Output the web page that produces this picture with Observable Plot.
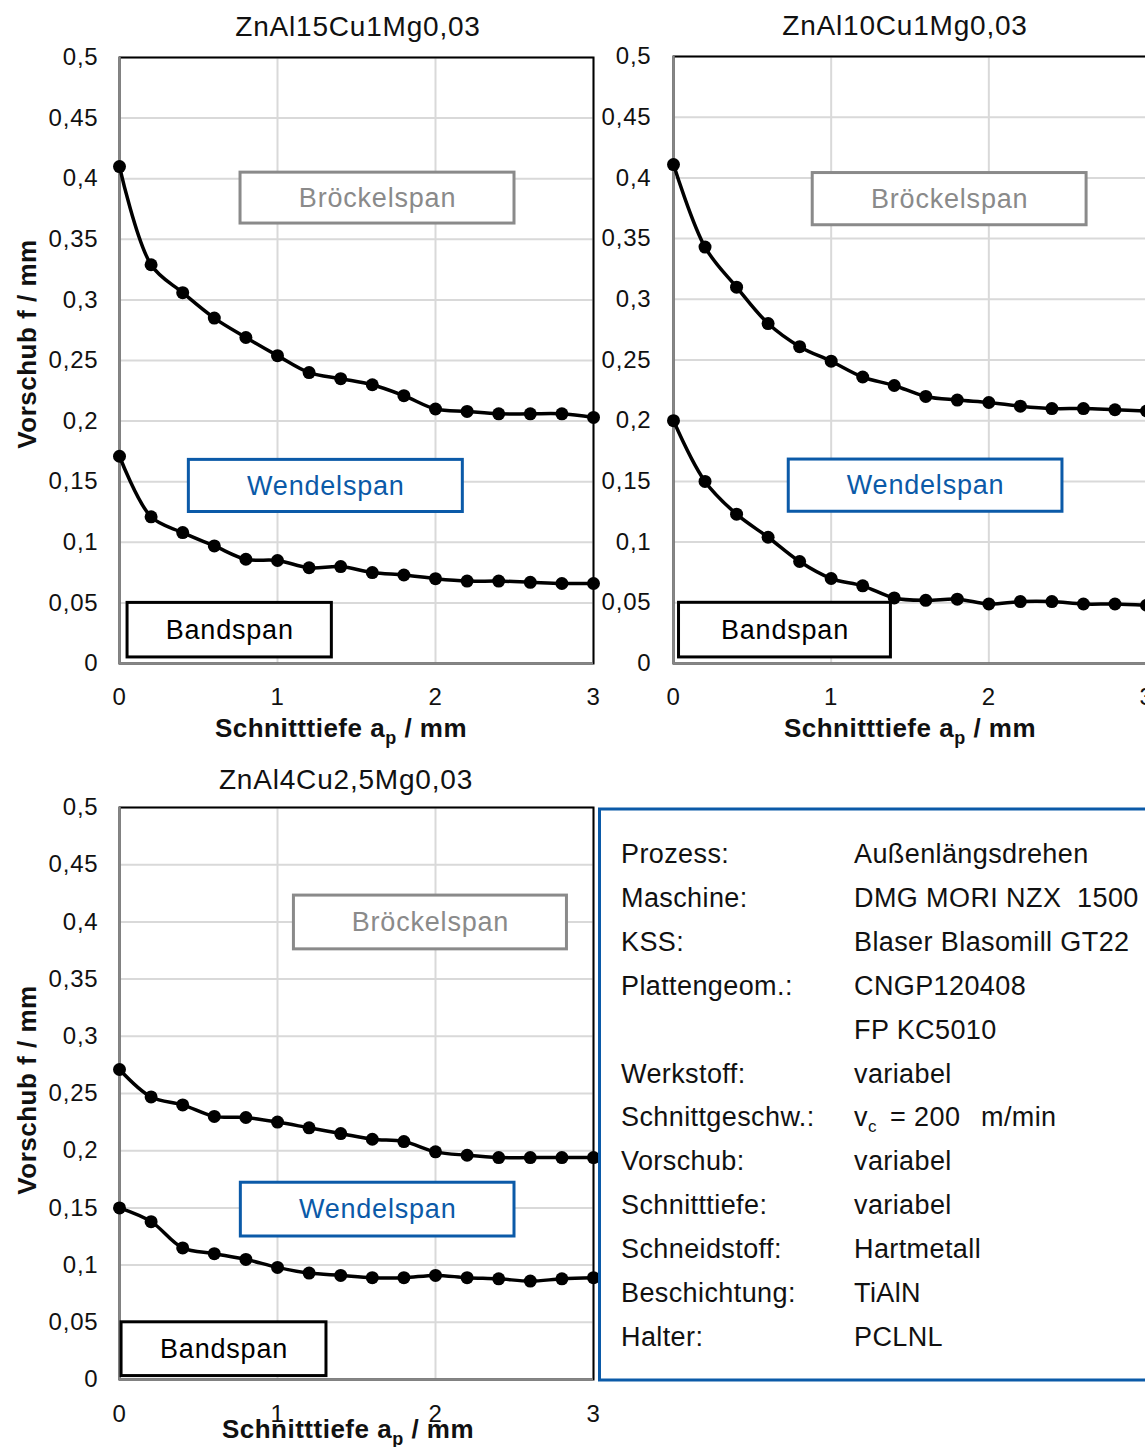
<!DOCTYPE html>
<html><head><meta charset="utf-8">
<script src="https://cdn.jsdelivr.net/npm/d3@7"></script>
<script src="https://cdn.jsdelivr.net/npm/@observablehq/plot@0.6"></script>
<style>
html,body{margin:0;padding:0;overflow:hidden;background:#fff;}
#page{position:relative;width:1145px;height:1447px;overflow:hidden;font-family:"Liberation Sans",Arial,sans-serif;}
.panel{position:absolute;}
.panel svg{background:transparent !important;overflow:visible;max-width:none !important;font-family:"Liberation Sans",Arial,sans-serif;}
.panel svg text{letter-spacing:0.8px;}
.overlay{position:absolute;left:0;top:0;pointer-events:none;font-family:"Liberation Sans",Arial,sans-serif;}
</style></head><body><div id="page"></div>
<script>
// ---- data ----
const depth = [0, 0.2, 0.4, 0.6, 0.8, 1.0, 1.2, 1.4, 1.6, 1.8, 2.0, 2.2, 2.4, 2.6, 2.8, 3.0];
const alloys = ["ZnAl15Cu1Mg0,03", "ZnAl10Cu1Mg0,03", "ZnAl4Cu2,5Mg0,03"];
// boundary Bröckelspan / Wendelspan
const upper15 = [0.410, 0.329, 0.306, 0.285, 0.269, 0.254, 0.240, 0.235, 0.230, 0.221, 0.210, 0.208, 0.206, 0.206, 0.206, 0.203];
const upper10 = [0.411, 0.343, 0.310, 0.280, 0.261, 0.249, 0.236, 0.229, 0.220, 0.217, 0.215, 0.212, 0.210, 0.210, 0.209, 0.208];
const upper4  = [0.271, 0.247, 0.240, 0.230, 0.229, 0.225, 0.220, 0.215, 0.210, 0.208, 0.199, 0.196, 0.194, 0.194, 0.194, 0.194];
// boundary Wendelspan / Bandspan
const lower15 = [0.171, 0.121, 0.108, 0.097, 0.086, 0.085, 0.079, 0.080, 0.075, 0.073, 0.070, 0.068, 0.068, 0.067, 0.066, 0.066];
const lower10 = [0.200, 0.150, 0.123, 0.104, 0.084, 0.070, 0.064, 0.054, 0.052, 0.053, 0.049, 0.051, 0.051, 0.049, 0.049, 0.048];
const lower4  = [0.150, 0.138, 0.115, 0.110, 0.105, 0.098, 0.093, 0.091, 0.089, 0.089, 0.091, 0.089, 0.088, 0.086, 0.088, 0.089];
const xTicks = [0, 1, 2, 3];
const yTicks = [0, 0.05, 0.1, 0.15, 0.2, 0.25, 0.3, 0.35, 0.4, 0.45, 0.5];
const zoneLabels = ["Bröckelspan", "Wendelspan", "Bandspan"];
const xTitle = ["Schnitttiefe a", "p", " / mm"];
const yTitle = "Vorschub f / mm";
const paramLabels = ["Prozess:", "Maschine:", "KSS:", "Plattengeom.:", "", "Werkstoff:", "Schnittgeschw.:", "Vorschub:", "Schnitttiefe:", "Schneidstoff:", "Beschichtung:", "Halter:"];
const paramValues = ["Außenlängsdrehen", "DMG MORI NZX  1500", "Blaser Blasomill GT22", "CNGP120408", "FP KC5010", "variabel", null, "variabel", "variabel", "Hartmetall", "TiAlN", "PCLNL"];
const speedParts = ["v", "c", "= 200", "m/min"];

// ---- styling / layout ----
const zoneColors = ["#8a8a8a", "#0b5aa8", "#000000"];
const gridColor = "#d9d9d9";
const axisColor = "#868686";
const fmtY = d => String(d).replace(".", ",");

const panels = [
  {left: 0, top: 0, width: 600, height: 760, mL: 119, mR: 7, mT: 57, mB: 97, padX: 24,
   upper: upper15, lower: lower15,
   boxes: [{x1: 0.766, x2: 2.50, y1: 0.363, y2: 0.405},
           {x1: 0.439, x2: 2.173, y1: 0.125, y2: 0.168},
           {x1: 0.051, x2: 1.344, y1: 0.005, y2: 0.050}]},
  {left: 590, top: 0, width: 565, height: 760, mL: 83, mR: 9, mT: 56, mB: 97, padX: 24,
   upper: upper10, lower: lower10,
   boxes: [{x1: 0.883, x2: 2.62, y1: 0.361, y2: 0.404},
           {x1: 0.731, x2: 2.467, y1: 0.125, y2: 0.168},
           {x1: 0.035, x2: 1.379, y1: 0.005, y2: 0.050}]},
  {left: 0, top: 760, width: 600, height: 687, mL: 119, mR: 7, mT: 47, mB: 68, padX: 25,
   upper: upper4, lower: lower4,
   boxes: [{x1: 1.104, x2: 2.832, y1: 0.376, y2: 0.423},
           {x1: 0.768, x2: 2.50, y1: 0.125, y2: 0.172},
           {x1: 0.013, x2: 1.31, y1: 0.003, y2: 0.050}]}
];

const page = document.getElementById("page");

panels.forEach((p, idx) => {
  const rows = depth.map((d, i) => ({depth: d, upper: p.upper[i], lower: p.lower[i]}));
  const boxMarks = p.boxes.flatMap((b, k) => [
    Plot.rect([b], {x1: "x1", x2: "x2", y1: "y1", y2: "y2", fill: "white", stroke: zoneColors[k], strokeWidth: 3}),
    Plot.text([b], {x: d => (d.x1 + d.x2) / 2, y: d => (d.y1 + d.y2) / 2, text: () => zoneLabels[k],
                    fill: zoneColors[k], fontSize: 27})
  ]);
  const chart = Plot.plot({
    width: p.width, height: p.height,
    marginLeft: p.mL, marginRight: p.mR, marginTop: p.mT, marginBottom: p.mB,
    x: {domain: [0, 3]},
    y: {domain: [0, 0.5]},
    marks: [
      Plot.gridY(yTicks, {stroke: gridColor, strokeOpacity: 1, strokeWidth: 2}),
      Plot.gridX(xTicks, {stroke: gridColor, strokeOpacity: 1, strokeWidth: 2}),
      Plot.frame({stroke: "black", strokeWidth: 2}),
      Plot.ruleX([0], {stroke: axisColor, strokeWidth: 2.5}),
      Plot.ruleY([0], {stroke: axisColor, strokeWidth: 2.5}),
      ...boxMarks,
      Plot.line(rows, {x: "depth", y: "upper", curve: "catmull-rom", stroke: "black", strokeWidth: 3.5}),
      Plot.line(rows, {x: "depth", y: "lower", curve: "catmull-rom", stroke: "black", strokeWidth: 3.5}),
      Plot.dot(rows, {x: "depth", y: "upper", r: 6.5, fill: "black"}),
      Plot.dot(rows, {x: "depth", y: "lower", r: 6.5, fill: "black"}),
      Plot.axisY(yTicks, {tickSize: 0, tickPadding: idx === 1 ? 22 : 21, fontSize: 24, tickFormat: fmtY, label: null, fill: "#111"}),
      Plot.axisX(xTicks, {tickSize: 0, tickPadding: p.padX, fontSize: 24, tickFormat: d => String(d), label: null, fill: "#111"})
    ]
  });
  const div = document.createElement("div");
  div.className = "panel";
  div.style.left = p.left + "px";
  div.style.top = p.top + "px";
  div.style.width = p.width + "px";
  div.style.height = p.height + "px";
  div.appendChild(chart);
  page.appendChild(div);
});

// ---- overlay: titles, axis titles, parameter box ----
const over = d3.select(page).append("svg").attr("class", "overlay")
  .attr("width", 1145).attr("height", 1447);

const titlePos = [[358, 36], [905, 35], [346, 789]];
alloys.forEach((a, i) => {
  over.append("text").attr("x", titlePos[i][0]).attr("y", titlePos[i][1])
    .attr("text-anchor", "middle").attr("font-size", 28).attr("letter-spacing", "0.8px")
    .attr("fill", "#111").text(a);
});

const xTitlePos = [[341, 737], [910, 737], [348, 1438]];
xTitlePos.forEach(([x, y]) => {
  const t = over.append("text").attr("x", x).attr("y", y).attr("text-anchor", "middle")
    .attr("font-size", 26).attr("font-weight", "bold").attr("fill", "#111").attr("letter-spacing", "0.5px");
  t.append("tspan").text(xTitle[0]);
  t.append("tspan").attr("font-size", 18).attr("dy", 7).text(xTitle[1]);
  t.append("tspan").attr("dy", -7).style("white-space", "pre").text(xTitle[2]);
});

const yTitlePos = [[36, 344], [36, 1090]];
yTitlePos.forEach(([x, y]) => {
  over.append("text").attr("transform", `translate(${x},${y}) rotate(-90)`)
    .attr("text-anchor", "middle").attr("font-size", 26).attr("font-weight", "bold")
    .attr("letter-spacing", "0.5px").attr("fill", "#111").text(yTitle);
});

// parameter box
over.append("rect").attr("x", 599.5).attr("y", 809).attr("width", 600).attr("height", 571)
  .attr("fill", "white").attr("stroke", "#0b5aa8").attr("stroke-width", 3);

const rowY = i => 863 + i * 43.9;
paramLabels.forEach((l, i) => {
  over.append("text").attr("x", 621).attr("y", rowY(i)).attr("font-size", 27)
    .attr("letter-spacing", "0.4px").attr("fill", "#111").text(l);
  if (paramValues[i] !== null) {
    over.append("text").attr("x", 854).attr("y", rowY(i)).attr("font-size", 27)
      .attr("letter-spacing", "0.4px").attr("fill", "#111").style("white-space", "pre").text(paramValues[i]);
  } else {
    const t = over.append("text").attr("y", rowY(i)).attr("font-size", 27)
      .attr("letter-spacing", "0.4px").attr("fill", "#111");
    t.append("tspan").attr("x", 854).text(speedParts[0]);
    t.append("tspan").attr("font-size", 17).attr("dy", 6).text(speedParts[1]);
    t.append("tspan").attr("x", 890).attr("dy", -6).text(speedParts[2]);
    t.append("tspan").attr("x", 981).text(speedParts[3]);
  }
});
</script></body></html>
